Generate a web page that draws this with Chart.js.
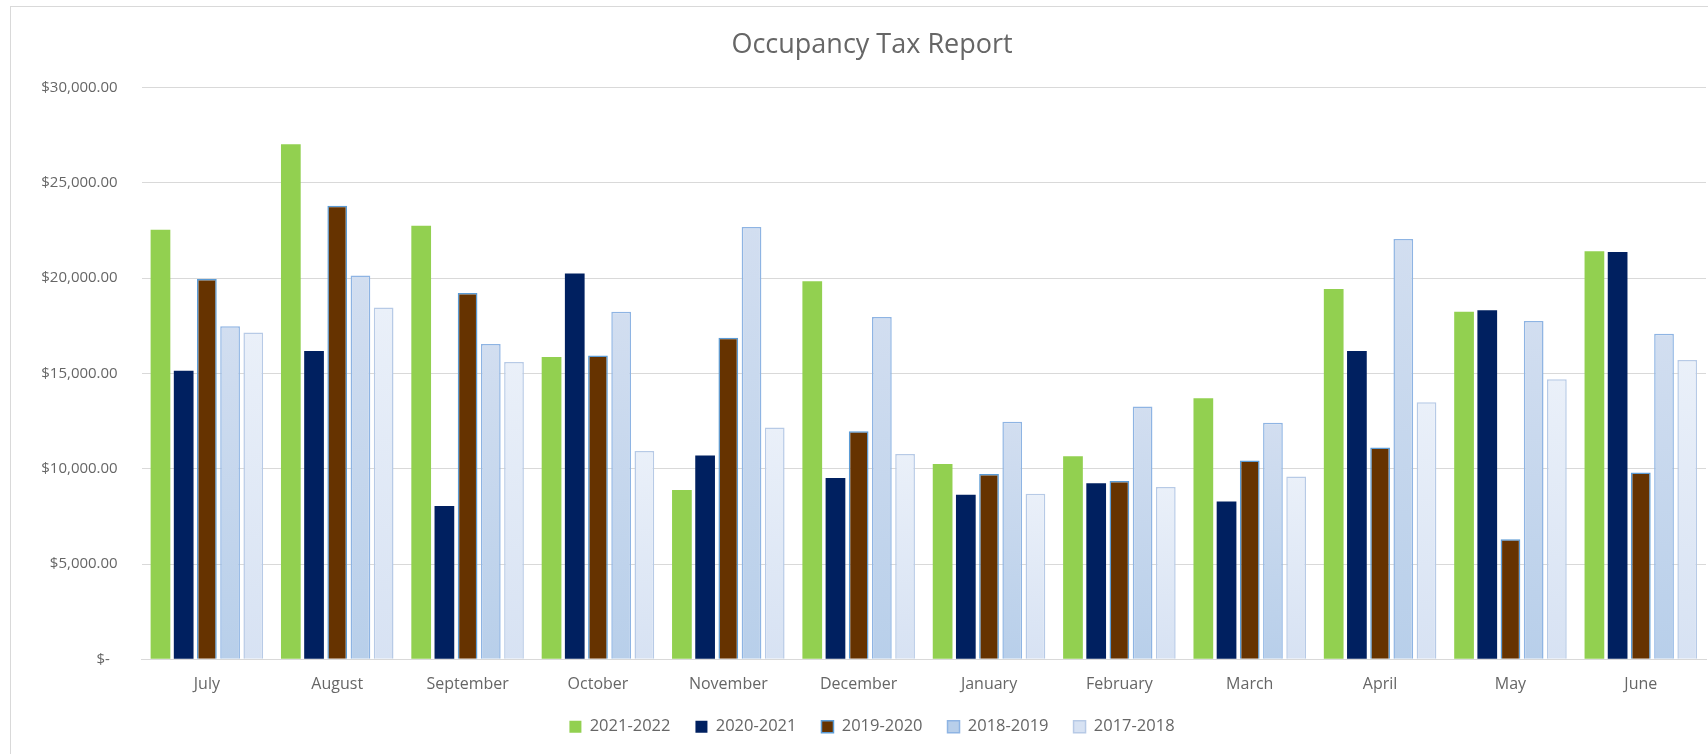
<!DOCTYPE html>
<html>
<head>
<meta charset="utf-8">
<title>Occupancy Tax Report</title>
<script src="https://cdn.jsdelivr.net/npm/chart.js@4/dist/chart.umd.min.js"></script>
<style>
  html, body { margin: 0; padding: 0; background: #fff; overflow: hidden; }
  #frame { position: absolute; left: 10px; top: 6px; border: 1px solid #d9d9d9; }
  #box { position: relative; width: 1720px; height: 770px; }
</style>
</head>
<body>
<div id="frame"><div id="box"><canvas id="myChart"></canvas></div></div>
<script>
// months of the fiscal year
var months = ["July", "August", "September", "October", "November", "December",
              "January", "February", "March", "April", "May", "June"];

// tax collected per month, one array per fiscal year
var fy2122 = [22550, 27030, 22750, 15870, 8890, 19840, 10250, 10660, 13700, 19430, 18240, 21420];
var fy2021 = [15140, 16180, 8050, 20250, 10700, 9510, 8630, 9240, 8280, 16180, 18320, 21380];
var fy1920 = [19960, 23800, 19220, 15940, 16880, 11970, 9730, 9360, 10430, 11110, 6300, 9800];
var fy1819 = [17480, 20150, 16550, 18240, 22690, 17970, 12470, 13270, 12420, 22060, 17760, 17090];
var fy1718 = [17150, 18460, 15610, 10930, 12160, 10780, 8690, 9040, 9590, 13490, 14700, 15710];

var seriesNames = ["2021-2022", "2020-2021", "2019-2020", "2018-2019", "2017-2018"];

var textColor = "#666666";
var font = "'Open Sans', 'Noto Sans', sans-serif";

// gradient for each bar, light at the top and darker at the base
function barGradient(topColor, baseColor) {
    return function(context) {
        var chart = context.chart;
        var y = chart.scales ? chart.scales.y : null;
        if (!y || context.type !== "data") return baseColor;
        var yTop = y.getPixelForValue(context.raw);
        var yBase = y.getPixelForValue(0);
        if (!isFinite(yTop) || !isFinite(yBase) || yTop === yBase) return baseColor;
        var g = chart.ctx.createLinearGradient(0, yTop, 0, yBase);
        g.addColorStop(0, topColor);
        g.addColorStop(1, baseColor);
        return g;
    };
}

// "$30,000.00" style labels, zero shown as "$-"
function money(value) {
    if (value === 0) return "$-  ";
    return "$" + value.toLocaleString("en-US", { minimumFractionDigits: 2, maximumFractionDigits: 2 });
}

var ctx = document.getElementById("myChart");

var chart = new Chart(ctx, {
    type: "bar",
    data: {
        labels: months,
        datasets: [{
            label: seriesNames[0],
            data: fy2122,
            backgroundColor: "#92d050",
            borderWidth: 0
        }, {
            label: seriesNames[1],
            data: fy2021,
            backgroundColor: "#002060",
            borderWidth: 0
        }, {
            label: seriesNames[2],
            data: fy1920,
            backgroundColor: "#663300",
            borderColor: "#5b9bd5",
            borderWidth: 1.5
        }, {
            label: seriesNames[3],
            data: fy1819,
            backgroundColor: barGradient("#d2def0", "#b8cfea"),
            borderColor: "#8eb4e3",
            borderWidth: 1.5
        }, {
            label: seriesNames[4],
            data: fy1718,
            backgroundColor: barGradient("#eaf0f9", "#d7e2f3"),
            borderColor: "#b7cae6",
            borderWidth: 1.5
        }]
    },
    options: {
        responsive: true,
        maintainAspectRatio: false,
        devicePixelRatio: 1,
        animation: false,
        categoryPercentage: 0.89,
        barPercentage: 0.85,
        layout: { padding: { left: 27, right: 25, top: 0, bottom: 32 } },
        plugins: {
            title: {
                display: true,
                text: "Occupancy Tax Report",
                color: textColor,
                font: { family: font, size: 27, weight: "normal" },
                padding: { top: 22, bottom: 26.3 }
            },
            legend: {
                position: "bottom",
                labels: {
                    color: textColor,
                    font: { family: font, size: 16.5 },
                    boxWidth: 12,
                    boxHeight: 12,
                    padding: 25
                }
            },
            tooltip: { enabled: false }
        },
        scales: {
            x: {
                grid: { display: false, drawTicks: false },
                border: { display: true, color: "#d9d9d9", width: 1 },
                ticks: {
                    color: textColor,
                    font: { family: font, size: 16 },
                    padding: 16,
                    maxRotation: 0,
                    autoSkip: false
                },
                // pull the legend up closer to the month labels
                afterFit: function(scale) { scale.height = scale.height - 17; }
            },
            y: {
                min: 0,
                max: 30000,
                grid: { color: "#d9d9d9", lineWidth: 1, drawTicks: false },
                border: { display: false },
                ticks: {
                    stepSize: 5000,
                    color: textColor,
                    font: { family: font, size: 15 },
                    padding: 24,
                    callback: function(value) { return money(value); }
                },
                afterFit: function(scale) { scale.width = 103.7; }
            }
        }
    }
});
</script>
</body>
</html>
